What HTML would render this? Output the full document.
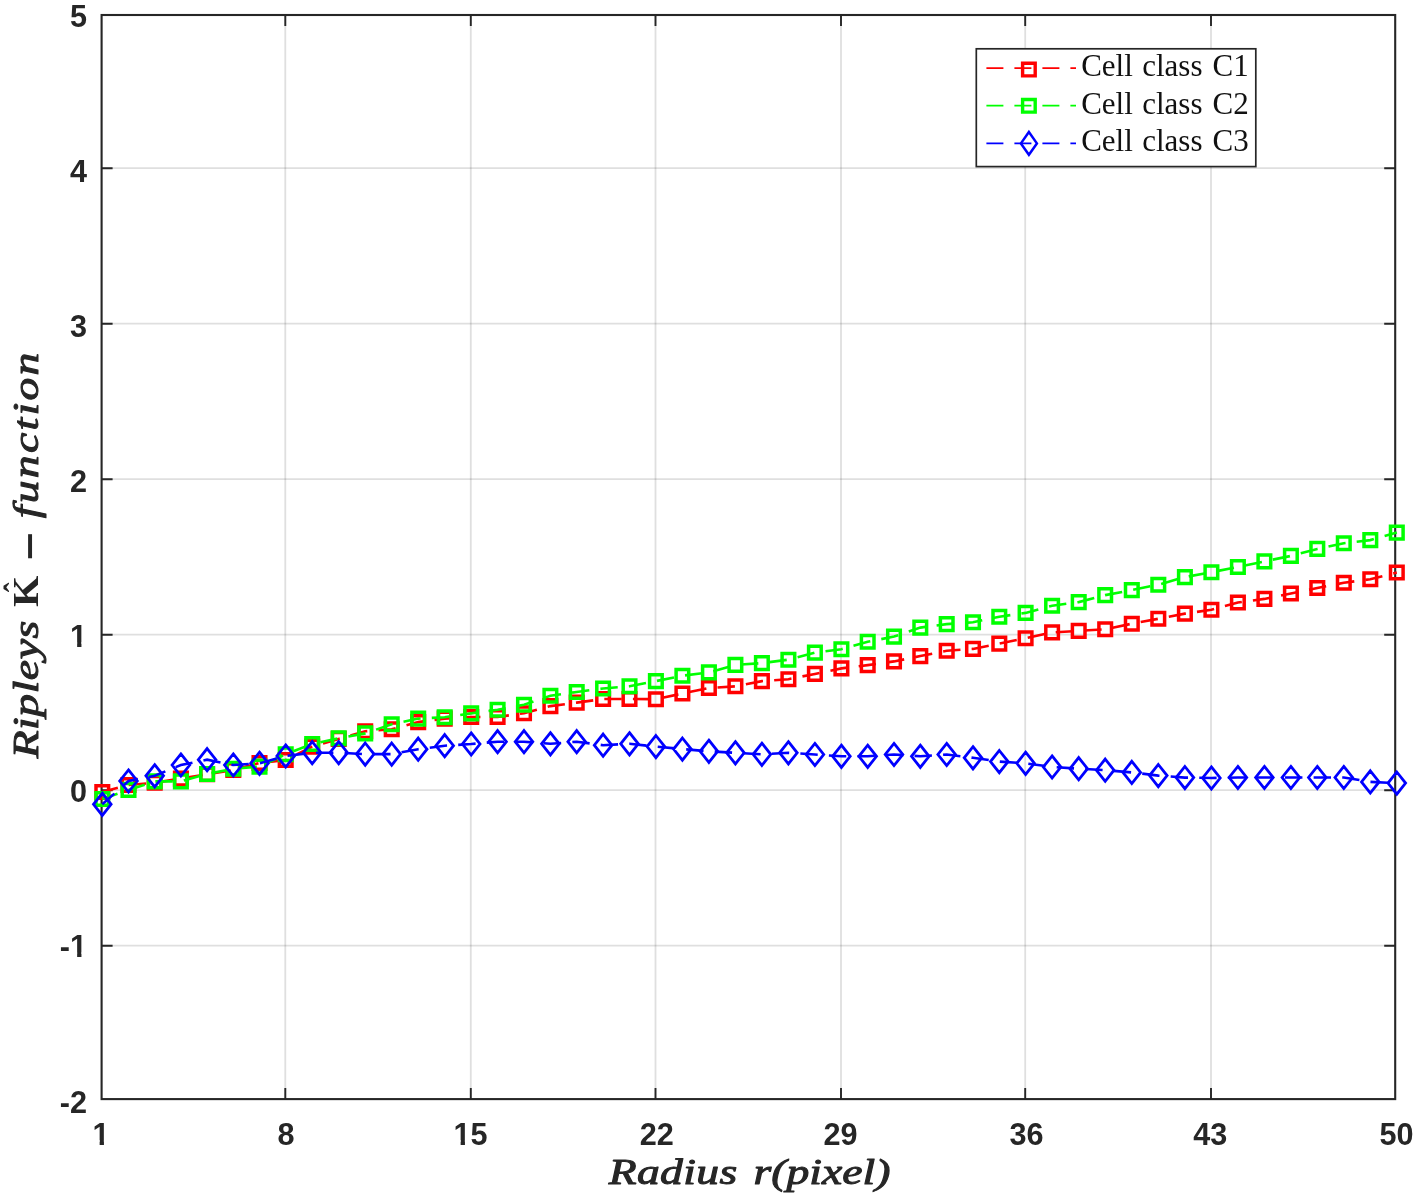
<!DOCTYPE html>
<html lang="en"><head><meta charset="utf-8"><title>Ripleys K-function</title>
<style>html,body{margin:0;padding:0;background:#fff}svg{display:block}.tk{font-family:"Liberation Sans",Arial,sans-serif;font-weight:700;font-size:30.6px;fill:#262626}.lg{font-family:"Liberation Serif","Times New Roman",serif;font-size:31px;fill:#111}.ax{font-family:"Liberation Serif","Times New Roman",serif;font-weight:400;font-style:italic;font-size:36.5px;fill:#262626;stroke:#262626;stroke-width:1px;stroke-linejoin:round}.kb{font-family:"Liberation Serif","Times New Roman",serif;font-weight:700;font-size:36.5px;fill:#262626}</style></head><body>
<svg width="1417" height="1198" viewBox="0 0 1417 1198">
<rect width="1417" height="1198" fill="#fff"/>
<path d="M285.3 15.0V1099.1M470.8 15.0V1099.1M655.5 15.0V1099.1M841.0 15.0V1099.1M1025.2 15.0V1099.1M1211.0 15.0V1099.1" stroke="#262626" stroke-opacity="0.15" stroke-width="1.8" fill="none"/>
<path d="M101.6 168.2H1395.2M101.6 323.7H1395.2M101.6 479.2H1395.2M101.6 634.7H1395.2M101.6 790.2H1395.2M101.6 945.7H1395.2" stroke="#262626" stroke-opacity="0.15" stroke-width="1.8" fill="none"/>
<path d="M285.3 1099.1v-11M285.3 15.0v11M470.8 1099.1v-11M470.8 15.0v11M655.5 1099.1v-11M655.5 15.0v11M841.0 1099.1v-11M841.0 15.0v11M1025.2 1099.1v-11M1025.2 15.0v11M1211.0 1099.1v-11M1211.0 15.0v11M101.6 168.2h11M1395.2 168.2h-11M101.6 323.7h11M1395.2 323.7h-11M101.6 479.2h11M1395.2 479.2h-11M101.6 634.7h11M1395.2 634.7h-11M101.6 790.2h11M1395.2 790.2h-11M101.6 945.7h11M1395.2 945.7h-11" stroke="#262626" stroke-width="1.9" fill="none"/>
<rect x="101.6" y="15.0" width="1293.6" height="1084.1" fill="none" stroke="#262626" stroke-width="2.1"/>
<polyline points="102.3,792.0 128.5,785.0 154.7,782.8 180.9,778.6 207.1,774.3 233.3,770.0 259.5,763.0 285.7,760.0 312.2,746.6 338.7,738.9 365.2,731.3 391.7,729.2 418.2,722.1 444.7,718.6 471.2,717.0 497.6,717.0 524.0,713.2 550.4,706.1 576.7,702.6 603.1,699.0 629.5,699.0 655.9,699.2 682.4,693.5 708.9,688.0 735.4,686.3 761.9,681.1 788.4,679.2 814.9,673.9 841.4,668.4 867.7,665.1 894.0,661.4 920.3,656.1 946.7,650.7 973.0,648.9 999.3,643.6 1025.6,638.3 1052.1,632.4 1078.7,630.9 1105.2,629.2 1131.8,623.7 1158.3,618.8 1184.9,613.6 1211.4,609.8 1237.9,602.5 1264.4,598.9 1290.9,593.5 1317.3,588.0 1343.8,582.8 1370.3,579.2 1396.8,572.5" fill="none" stroke="#ff0000" stroke-width="2.6" stroke-dasharray="17.4 11.2" stroke-dashoffset="1.3"/>
<path d="M96.0 785.7h12.6v12.6h-12.6zM122.2 778.7h12.6v12.6h-12.6zM148.4 776.5h12.6v12.6h-12.6zM174.6 772.3h12.6v12.6h-12.6zM200.8 768.0h12.6v12.6h-12.6zM227.0 763.7h12.6v12.6h-12.6zM253.2 756.7h12.6v12.6h-12.6zM279.4 753.7h12.6v12.6h-12.6zM305.9 740.3h12.6v12.6h-12.6zM332.4 732.6h12.6v12.6h-12.6zM358.9 725.0h12.6v12.6h-12.6zM385.4 722.9h12.6v12.6h-12.6zM411.9 715.8h12.6v12.6h-12.6zM438.4 712.3h12.6v12.6h-12.6zM464.9 710.7h12.6v12.6h-12.6zM491.3 710.7h12.6v12.6h-12.6zM517.7 706.9h12.6v12.6h-12.6zM544.1 699.8h12.6v12.6h-12.6zM570.4 696.3h12.6v12.6h-12.6zM596.8 692.7h12.6v12.6h-12.6zM623.2 692.7h12.6v12.6h-12.6zM649.6 692.9h12.6v12.6h-12.6zM676.1 687.2h12.6v12.6h-12.6zM702.6 681.7h12.6v12.6h-12.6zM729.1 680.0h12.6v12.6h-12.6zM755.6 674.8h12.6v12.6h-12.6zM782.1 672.9h12.6v12.6h-12.6zM808.6 667.6h12.6v12.6h-12.6zM835.1 662.1h12.6v12.6h-12.6zM861.4 658.8h12.6v12.6h-12.6zM887.7 655.1h12.6v12.6h-12.6zM914.0 649.8h12.6v12.6h-12.6zM940.4 644.4h12.6v12.6h-12.6zM966.7 642.6h12.6v12.6h-12.6zM993.0 637.3h12.6v12.6h-12.6zM1019.3 632.0h12.6v12.6h-12.6zM1045.8 626.1h12.6v12.6h-12.6zM1072.4 624.6h12.6v12.6h-12.6zM1098.9 622.9h12.6v12.6h-12.6zM1125.5 617.4h12.6v12.6h-12.6zM1152.0 612.5h12.6v12.6h-12.6zM1178.6 607.3h12.6v12.6h-12.6zM1205.1 603.5h12.6v12.6h-12.6zM1231.6 596.2h12.6v12.6h-12.6zM1258.1 592.6h12.6v12.6h-12.6zM1284.6 587.2h12.6v12.6h-12.6zM1311.0 581.7h12.6v12.6h-12.6zM1337.5 576.5h12.6v12.6h-12.6zM1364.0 572.9h12.6v12.6h-12.6zM1390.5 566.2h12.6v12.6h-12.6z" fill="none" stroke="#ff0000" stroke-width="3.5" stroke-linejoin="miter"/>
<polyline points="102.3,799.0 128.5,789.9 154.7,781.4 180.9,781.4 207.1,774.0 233.3,768.7 259.5,766.6 285.7,754.2 312.2,744.0 338.7,738.3 365.2,733.4 391.7,724.2 418.2,718.6 444.7,717.2 471.2,713.4 497.6,709.8 524.0,704.7 550.4,695.7 576.7,692.0 603.1,688.5 629.5,686.3 655.9,681.1 682.4,675.7 708.9,672.4 735.4,664.9 761.9,663.1 788.4,659.7 814.9,652.6 841.4,649.2 867.7,641.8 894.0,636.6 920.3,627.6 946.7,624.1 973.0,622.3 999.3,616.7 1025.6,612.9 1052.1,605.7 1078.7,602.1 1105.2,595.1 1131.8,590.1 1158.3,584.7 1184.9,577.1 1211.4,572.2 1237.9,567.0 1264.4,561.4 1290.9,555.9 1317.3,548.9 1343.8,543.2 1370.3,540.1 1396.8,532.6" fill="none" stroke="#00ff00" stroke-width="2.6" stroke-dasharray="17.4 11.2" stroke-dashoffset="1.3"/>
<path d="M96.0 792.7h12.6v12.6h-12.6zM122.2 783.6h12.6v12.6h-12.6zM148.4 775.1h12.6v12.6h-12.6zM174.6 775.1h12.6v12.6h-12.6zM200.8 767.7h12.6v12.6h-12.6zM227.0 762.4h12.6v12.6h-12.6zM253.2 760.3h12.6v12.6h-12.6zM279.4 747.9h12.6v12.6h-12.6zM305.9 737.7h12.6v12.6h-12.6zM332.4 732.0h12.6v12.6h-12.6zM358.9 727.1h12.6v12.6h-12.6zM385.4 717.9h12.6v12.6h-12.6zM411.9 712.3h12.6v12.6h-12.6zM438.4 710.9h12.6v12.6h-12.6zM464.9 707.1h12.6v12.6h-12.6zM491.3 703.5h12.6v12.6h-12.6zM517.7 698.4h12.6v12.6h-12.6zM544.1 689.4h12.6v12.6h-12.6zM570.4 685.7h12.6v12.6h-12.6zM596.8 682.2h12.6v12.6h-12.6zM623.2 680.0h12.6v12.6h-12.6zM649.6 674.8h12.6v12.6h-12.6zM676.1 669.4h12.6v12.6h-12.6zM702.6 666.1h12.6v12.6h-12.6zM729.1 658.6h12.6v12.6h-12.6zM755.6 656.8h12.6v12.6h-12.6zM782.1 653.4h12.6v12.6h-12.6zM808.6 646.3h12.6v12.6h-12.6zM835.1 642.9h12.6v12.6h-12.6zM861.4 635.5h12.6v12.6h-12.6zM887.7 630.3h12.6v12.6h-12.6zM914.0 621.3h12.6v12.6h-12.6zM940.4 617.8h12.6v12.6h-12.6zM966.7 616.0h12.6v12.6h-12.6zM993.0 610.4h12.6v12.6h-12.6zM1019.3 606.6h12.6v12.6h-12.6zM1045.8 599.4h12.6v12.6h-12.6zM1072.4 595.8h12.6v12.6h-12.6zM1098.9 588.8h12.6v12.6h-12.6zM1125.5 583.8h12.6v12.6h-12.6zM1152.0 578.4h12.6v12.6h-12.6zM1178.6 570.8h12.6v12.6h-12.6zM1205.1 565.9h12.6v12.6h-12.6zM1231.6 560.7h12.6v12.6h-12.6zM1258.1 555.1h12.6v12.6h-12.6zM1284.6 549.6h12.6v12.6h-12.6zM1311.0 542.6h12.6v12.6h-12.6zM1337.5 536.9h12.6v12.6h-12.6zM1364.0 533.8h12.6v12.6h-12.6zM1390.5 526.3h12.6v12.6h-12.6z" fill="none" stroke="#00ff00" stroke-width="3.5" stroke-linejoin="miter"/>
<polyline points="102.3,804.3 128.5,781.0 154.7,775.8 180.9,765.0 207.1,759.7 233.3,765.0 259.5,763.3 285.7,756.0 312.2,752.7 338.7,752.7 365.2,754.1 391.7,754.1 418.2,749.2 444.7,745.7 471.2,744.0 497.6,741.7 524.0,741.7 550.4,743.8 576.7,741.7 603.1,745.2 629.5,743.8 655.9,746.6 682.4,749.1 708.9,751.3 735.4,752.8 761.9,754.3 788.4,752.8 814.9,754.5 841.4,756.3 867.7,756.3 894.0,754.5 920.3,756.3 946.7,754.5 973.0,757.8 999.3,761.6 1025.6,763.3 1052.1,767.0 1078.7,768.7 1105.2,770.2 1131.8,772.4 1158.3,775.6 1184.9,777.6 1211.4,778.0 1237.9,777.5 1264.4,777.5 1290.9,777.5 1317.3,777.5 1343.8,777.5 1370.3,781.9 1396.8,783.1" fill="none" stroke="#0000ff" stroke-width="2.6" stroke-dasharray="17.4 11.2" stroke-dashoffset="1.3"/>
<path d="M102.3 793.2l8.8 11.1l-8.8 11.1l-8.8 -11.1zM128.5 769.9l8.8 11.1l-8.8 11.1l-8.8 -11.1zM154.7 764.7l8.8 11.1l-8.8 11.1l-8.8 -11.1zM180.9 753.9l8.8 11.1l-8.8 11.1l-8.8 -11.1zM207.1 748.6l8.8 11.1l-8.8 11.1l-8.8 -11.1zM233.3 753.9l8.8 11.1l-8.8 11.1l-8.8 -11.1zM259.5 752.2l8.8 11.1l-8.8 11.1l-8.8 -11.1zM285.7 744.9l8.8 11.1l-8.8 11.1l-8.8 -11.1zM312.2 741.6l8.8 11.1l-8.8 11.1l-8.8 -11.1zM338.7 741.6l8.8 11.1l-8.8 11.1l-8.8 -11.1zM365.2 743.0l8.8 11.1l-8.8 11.1l-8.8 -11.1zM391.7 743.0l8.8 11.1l-8.8 11.1l-8.8 -11.1zM418.2 738.1l8.8 11.1l-8.8 11.1l-8.8 -11.1zM444.7 734.6l8.8 11.1l-8.8 11.1l-8.8 -11.1zM471.2 732.9l8.8 11.1l-8.8 11.1l-8.8 -11.1zM497.6 730.6l8.8 11.1l-8.8 11.1l-8.8 -11.1zM524.0 730.6l8.8 11.1l-8.8 11.1l-8.8 -11.1zM550.4 732.7l8.8 11.1l-8.8 11.1l-8.8 -11.1zM576.7 730.6l8.8 11.1l-8.8 11.1l-8.8 -11.1zM603.1 734.1l8.8 11.1l-8.8 11.1l-8.8 -11.1zM629.5 732.7l8.8 11.1l-8.8 11.1l-8.8 -11.1zM655.9 735.5l8.8 11.1l-8.8 11.1l-8.8 -11.1zM682.4 738.0l8.8 11.1l-8.8 11.1l-8.8 -11.1zM708.9 740.2l8.8 11.1l-8.8 11.1l-8.8 -11.1zM735.4 741.7l8.8 11.1l-8.8 11.1l-8.8 -11.1zM761.9 743.2l8.8 11.1l-8.8 11.1l-8.8 -11.1zM788.4 741.7l8.8 11.1l-8.8 11.1l-8.8 -11.1zM814.9 743.4l8.8 11.1l-8.8 11.1l-8.8 -11.1zM841.4 745.2l8.8 11.1l-8.8 11.1l-8.8 -11.1zM867.7 745.2l8.8 11.1l-8.8 11.1l-8.8 -11.1zM894.0 743.4l8.8 11.1l-8.8 11.1l-8.8 -11.1zM920.3 745.2l8.8 11.1l-8.8 11.1l-8.8 -11.1zM946.7 743.4l8.8 11.1l-8.8 11.1l-8.8 -11.1zM973.0 746.7l8.8 11.1l-8.8 11.1l-8.8 -11.1zM999.3 750.5l8.8 11.1l-8.8 11.1l-8.8 -11.1zM1025.6 752.2l8.8 11.1l-8.8 11.1l-8.8 -11.1zM1052.1 755.9l8.8 11.1l-8.8 11.1l-8.8 -11.1zM1078.7 757.6l8.8 11.1l-8.8 11.1l-8.8 -11.1zM1105.2 759.1l8.8 11.1l-8.8 11.1l-8.8 -11.1zM1131.8 761.3l8.8 11.1l-8.8 11.1l-8.8 -11.1zM1158.3 764.5l8.8 11.1l-8.8 11.1l-8.8 -11.1zM1184.9 766.5l8.8 11.1l-8.8 11.1l-8.8 -11.1zM1211.4 766.9l8.8 11.1l-8.8 11.1l-8.8 -11.1zM1237.9 766.4l8.8 11.1l-8.8 11.1l-8.8 -11.1zM1264.4 766.4l8.8 11.1l-8.8 11.1l-8.8 -11.1zM1290.9 766.4l8.8 11.1l-8.8 11.1l-8.8 -11.1zM1317.3 766.4l8.8 11.1l-8.8 11.1l-8.8 -11.1zM1343.8 766.4l8.8 11.1l-8.8 11.1l-8.8 -11.1zM1370.3 770.8l8.8 11.1l-8.8 11.1l-8.8 -11.1zM1396.8 772.0l8.8 11.1l-8.8 11.1l-8.8 -11.1z" fill="none" stroke="#0000ff" stroke-width="2.8" stroke-linejoin="miter"/>
<rect x="976.3" y="48.8" width="279.5" height="117.8" fill="#fff" stroke="#262626" stroke-width="1.7"/>
<path d="M986.4 68.2H1076" stroke="#ff0000" stroke-width="1.8" stroke-dasharray="17 11" fill="none"/>
<path d="M1022.6 63.3h12.6v12.6h-12.6z" fill="none" stroke="#ff0000" stroke-width="3.4"/>
<text class="lg" y="76.3"><tspan x="1081.2">Cell</tspan> <tspan x="1142.2">class</tspan> <tspan x="1212.6">C1</tspan></text>
<path d="M986.4 105.7H1076" stroke="#00ff00" stroke-width="1.8" stroke-dasharray="17 11" fill="none"/>
<path d="M1022.6 99.5h12.6v12.6h-12.6z" fill="none" stroke="#00ff00" stroke-width="3.4"/>
<text class="lg" y="113.6"><tspan x="1081.2">Cell</tspan> <tspan x="1142.2">class</tspan> <tspan x="1212.6">C2</tspan></text>
<path d="M986.4 143.4H1076" stroke="#0000ff" stroke-width="1.8" stroke-dasharray="17 11" fill="none"/>
<path d="M1028.9 132.0l8.0 11.4l-8.0 11.4l-8.0 -11.4z" fill="none" stroke="#0000ff" stroke-width="2.5"/>
<text class="lg" y="151.3"><tspan x="1081.2">Cell</tspan> <tspan x="1142.2">class</tspan> <tspan x="1212.6">C3</tspan></text>
<text class="tk" x="101.0" y="1145.1" text-anchor="middle">1</text>
<text class="tk" x="285.9" y="1145.1" text-anchor="middle">8</text>
<text class="tk" x="470.5" y="1145.1" text-anchor="middle">15</text>
<text class="tk" x="656.7" y="1145.1" text-anchor="middle">22</text>
<text class="tk" x="840.4" y="1145.1" text-anchor="middle">29</text>
<text class="tk" x="1026.4" y="1145.1" text-anchor="middle">36</text>
<text class="tk" x="1210.3" y="1145.1" text-anchor="middle">43</text>
<text class="tk" x="1396.4" y="1145.1" text-anchor="middle">50</text>
<text class="tk" x="87" y="26.8" text-anchor="end">5</text>
<text class="tk" x="87" y="181.8" text-anchor="end">4</text>
<text class="tk" x="87" y="336.9" text-anchor="end">3</text>
<text class="tk" x="87" y="492.0" text-anchor="end">2</text>
<text class="tk" x="87" y="647.1" text-anchor="end">1</text>
<text class="tk" x="87" y="802.2" text-anchor="end">0</text>
<text class="tk" x="87" y="957.3" text-anchor="end">-1</text>
<text class="tk" x="87" y="1112.5" text-anchor="end">-2</text>
<rect x="92.79" y="1140.20" width="6.85" height="6" fill="#fff"/><rect x="103.94" y="1140.20" width="6.6" height="6" fill="#fff"/>
<rect x="453.79" y="1140.20" width="6.85" height="6" fill="#fff"/><rect x="464.94" y="1140.20" width="6.6" height="6" fill="#fff"/>
<rect x="70.29" y="642.25" width="6.85" height="6" fill="#fff"/><rect x="81.44" y="642.25" width="6.6" height="6" fill="#fff"/>
<rect x="70.29" y="952.45" width="6.85" height="6" fill="#fff"/><rect x="81.44" y="952.45" width="6.6" height="6" fill="#fff"/>
<text class="ax" transform="translate(608.8,1184) scale(1.25,1)" x="0" y="0" textLength="102.7" lengthAdjust="spacing">Radius</text>
<text class="ax" transform="translate(753.5,1184) scale(1.25,1)" x="0" y="0" textLength="109.6" lengthAdjust="spacing">r(pixel)</text>
<g transform="translate(38,758.3) rotate(-90)">
<text class="ax" transform="translate(0,0) scale(1.25,1)" x="0" y="0" textLength="110.0" lengthAdjust="spacing">Ripleys</text>
<text class="kb" transform="translate(151.2,0) scale(1.1,1)" x="0" y="0">K</text>
<text class="kb" transform="translate(166,-10) scale(0.8,0.95)" x="0" y="0">&#x2c6;</text>
<text class="kb" transform="translate(197.3,10.5) scale(1.42,1.55)" x="0" y="0">&#x2212;</text>
<text class="ax" transform="translate(240.0,0) scale(1.25,1)" x="0" y="0" textLength="132.5" lengthAdjust="spacing">function</text>
</g>
</svg></body></html>
